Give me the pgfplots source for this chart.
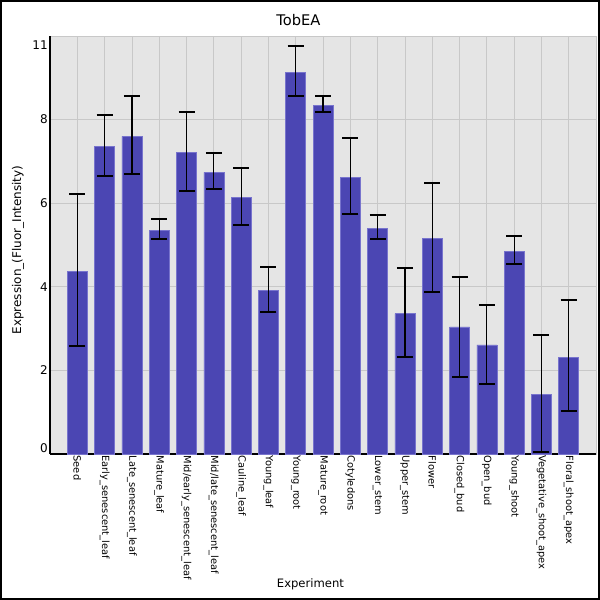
\documentclass[border=0pt]{standalone}
\usepackage{pgfplots}
\pgfplotsset{compat=1.18}
\usepackage{pgfplotstable}
\usepackage{fontspec}
\setmainfont{DejaVu Sans}
\definecolor{barc}{RGB}{75,70,179}
\definecolor{baredge}{RGB}{120,116,205}
\definecolor{bgc}{RGB}{229,229,229}
\definecolor{gridc}{RGB}{200,200,200}
\pgfplotstableread{
x y ep em
0 4.37 1.85 1.79
1 7.36 0.74 0.71
2 7.60 0.96 0.90
3 5.35 0.27 0.21
4 7.22 0.96 0.93
5 6.74 0.46 0.40
6 6.14 0.71 0.67
7 3.92 0.55 0.53
8 9.13 0.62 0.57
9 8.34 0.22 0.16
10 6.62 0.93 0.88
11 5.40 0.31 0.26
12 3.36 1.09 1.03
13 5.16 1.33 1.29
14 3.04 1.19 1.19
15 2.61 0.95 0.93
16 4.85 0.36 0.30
17 1.43 1.41 1.38
18 2.32 1.36 1.30
}\datatable
\begin{document}
\begin{tikzpicture}
\begin{axis}[
  at={(37.5pt,109.5pt)}, anchor=south west,
  scale only axis, width=409.5pt, height=313.5pt,
  xmin=-1, xmax=19, ymin=0, ymax=10,
  axis x line*=bottom, axis y line*=left,
  axis line style={black, line width=0.8pt, -},
  axis background/.style={fill=bgc, draw=gridc},
  xtick={0,...,18},
  xticklabels={Seed, Early\_senescent\_leaf, Late\_senescent\_leaf, Mature\_leaf, Mid/early\_senescent\_leaf, Mid/late\_senescent\_leaf, Cauline\_leaf, Young\_leaf, Young\_root, Mature\_root, Cotyledons, Lower\_stem, Upper\_stem, Flower, Closed\_bud, Open\_bud, Young\_shoot, Vegetative\_shoot\_apex, Floral\_shoot\_apex},
  xticklabel style={rotate=-90, anchor=west, inner sep=1pt, font=\fontsize{7.4}{8.5}\selectfont},
  ytick={2,4,6,8},
  extra y ticks={0.14,9.78},
  extra y tick labels={0,11},
  extra y tick style={grid=none},
  yticklabel style={font=\fontsize{9}{10}\selectfont, inner sep=1.5pt},
  /pgf/number format/assume math mode=true,
  major tick length=0pt,
  xmajorgrids, ymajorgrids,
  grid style={gridc, line width=0.6pt},
  title={TobEA},
  title style={at={(axis description cs:0.455,1.038)}, anchor=center, yshift=-6pt, font=\fontsize{11}{13}\selectfont},
  xlabel={Experiment},
  xlabel style={at={(axis description cs:0.477,-0.311)}, anchor=center, font=\fontsize{8.7}{10}\selectfont},
  ylabel={Expression\_(Fluor\_Intensity)},
  ylabel style={at={(axis description cs:-0.0586,0.488)}, anchor=center, font=\fontsize{9}{10}\selectfont},
  ybar, bar width=15pt,
  clip=false,
]
\addplot[fill=barc, draw=baredge, line width=0.4pt,
  error bars/.cd, y dir=both, y explicit,
  error bar style={black, line width=0.9pt},
  error mark options={rotate=90, mark size=6pt, line width=1.5pt, black}]
  table[x=x, y=y, y error plus=ep, y error minus=em] {\datatable};
\end{axis}
\draw[black, line width=1.5pt] (0.75pt,0.75pt) rectangle (449.25pt,449.25pt);
\pgfresetboundingbox
\useasboundingbox (0,0) rectangle (450pt,450pt);
\end{tikzpicture}
\end{document}
